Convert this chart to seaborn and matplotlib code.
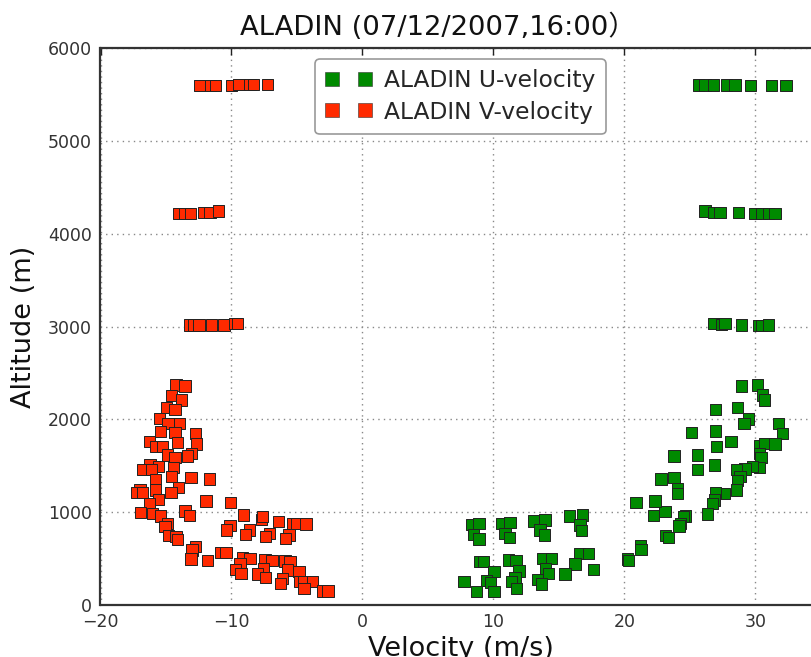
import matplotlib
matplotlib.use("Agg")
import matplotlib.pyplot as plt
from matplotlib.lines import Line2D
import numpy as np
import pandas as pd
import seaborn as sns

# ---------------- data ----------------
title_text = "ALADIN (07/12/2007,16:00\uff09"
x_label = "Velocity (m/s)"
y_label = "Altitude (m)"
series_labels = ["ALADIN U-velocity", "ALADIN V-velocity"]
x_ticks = [-20, -10, 0, 10, 20, 30]
y_ticks = [0, 1000, 2000, 3000, 4000, 5000, 6000]

# U-velocity (green)
u_velocity = [
    25.63, 26.15, 26.78, 27.80, 28.44, 29.63, 31.24, 32.33,
    26.15, 26.78, 27.29, 28.69, 29.96, 30.47, 30.98, 31.49,
    26.78, 27.42, 27.67, 28.95, 30.21, 30.47, 30.98,
    28.95, 30.17, 30.52, 30.67, 26.96, 28.64, 29.45, 29.12, 31.76, 32.06,
    25.13, 26.96, 28.13, 27.04, 30.29, 30.73, 31.49, 23.78, 25.56, 30.29,
    30.42, 25.56, 26.89, 30.29, 29.79, 29.20, 28.56, 22.79, 23.78, 28.82,
    28.64, 24.06, 24.06, 28.56, 27.60, 26.93, 26.85, 26.73, 23.09, 26.35,
    24.67, 24.49, 24.29, 24.16, 23.15, 23.34,
    20.88, 22.33, 22.20, 21.24, 21.26, 20.24, 20.29,
    8.34, 8.89, 8.46, 8.89, 10.63, 11.26, 10.88, 11.21, 13.09, 13.93,
    13.55, 13.88, 15.79, 16.81, 16.60, 16.70,
    8.97, 9.22, 10.04, 9.48, 9.79, 10.04, 7.75, 8.72, 11.13, 11.72,
    11.95, 11.64, 11.39, 11.77, 13.76, 14.44, 13.98, 14.18, 13.34, 13.68,
    16.55, 17.24, 16.22, 15.46, 17.62,
]
u_altitude = [
    5601, 5601, 5601, 5601, 5601, 5594, 5594, 5594,
    4244, 4230, 4230, 4230, 4219, 4219, 4219, 4219,
    3035, 3024, 3035, 3016, 3009, 3009, 3016,
    2359, 2370, 2262, 2208, 2108, 2125, 2004, 1957, 1957, 1850,
    1860, 1874, 1759, 1705, 1713, 1742, 1734, 1605, 1616, 1634,
    1591, 1462, 1508, 1483, 1490, 1465, 1462, 1357, 1371, 1382,
    1339, 1257, 1203, 1239, 1203, 1210, 1131, 1096, 1005, 980,
    959, 951, 880, 851, 747, 729,
    1102, 1120, 962, 636, 600, 496, 477,
    869, 880, 762, 711, 880, 891, 772, 725, 905, 916,
    808, 754, 959, 970, 862, 800,
    466, 466, 359, 262, 240, 143, 251, 143, 485, 477,
    366, 298, 251, 180, 503, 503, 395, 341, 277, 226,
    557, 557, 442, 334, 385,
]

# V-velocity (red)
v_velocity = [
    -12.46, -11.59, -11.24, -9.98, -9.43, -8.59, -8.34, -7.27,
    -14.06, -13.55, -13.11, -12.15, -11.64, -11.01,
    -13.22, -12.92, -12.48, -11.51, -10.57, -9.73, -9.56,
    -14.24, -13.55, -14.56, -13.80, -14.95, -14.31, -15.51, -14.85, -13.98,
    -15.40, -14.31, -12.76, -16.27, -14.14, -12.66, -15.79, -15.28, -14.90,
    -14.31, -13.04, -13.34, -16.22, -15.59, -16.81, -16.09, -14.44, -15.79,
    -14.56, -13.09, -11.69, -16.98, -17.24, -16.81, -15.79, -14.06, -14.62,
    -15.59, -16.27, -11.95, -10.06, -16.93, -16.05, -15.40, -13.55, -13.22,
    -9.10, -7.69, -7.62, -6.43, -5.36, -5.02, -4.31, -14.87, -15.08, -10.11,
    -10.37, -8.64, -8.95, -7.11, -7.39, -5.61, -5.86, -14.79, -14.24, -14.14,
    -12.76, -13.02, -13.09, -11.85, -10.80, -10.42, -9.15, -8.59, -7.44,
    -6.91, -5.92, -5.53, -9.35, -9.68, -9.27, -7.57, -8.00, -7.39, -5.71,
    -4.85, -6.09, -6.24, -4.82, -4.47, -3.80, -4.47, -3.04, -2.63,
]
v_altitude = [
    5594, 5594, 5594, 5594, 5610, 5610, 5610, 5610,
    4219, 4219, 4219, 4230, 4230, 4244,
    3016, 3016, 3016, 3016, 3016, 3035, 3035,
    2370, 2359, 2255, 2208, 2125, 2108, 2011, 1957, 1957,
    1867, 1856, 1850, 1759, 1748, 1734, 1705, 1705, 1616,
    1591, 1634, 1605, 1508, 1490, 1462, 1462, 1483, 1354,
    1382, 1376, 1357, 1246, 1210, 1210, 1239, 1268, 1210,
    1139, 1096, 1120, 1106, 994, 988, 959, 1013, 962,
    970, 923, 951, 897, 880, 880, 873, 880, 843, 854,
    808, 808, 762, 772, 736, 754, 719, 747, 736, 708,
    628, 592, 496, 477, 563, 563, 514, 503, 485,
    477, 474, 466, 449, 385, 341, 395, 334, 298, 377,
    359, 288, 234, 251, 251, 251, 180, 151, 151,
]

u_color = "#008a00"
v_color = "#ff2a00"

# ---------------- figure ----------------
sns.set_style("white")
plt.rcParams["font.family"] = ["DejaVu Sans", "Noto Sans CJK SC"]
plt.rcParams["axes.unicode_minus"] = True

W, H = 812, 657
fig = plt.figure(figsize=(W / 100, H / 100), dpi=100)
fig.patch.set_facecolor("white")
ax_left, ax_bottom, ax_top = 100.5, 605, 48
ax_width = 720.5
ax = fig.add_axes([ax_left / W, (H - ax_bottom) / H, ax_width / W, (ax_bottom - ax_top) / H])

df = pd.DataFrame({
    "velocity": u_velocity + v_velocity,
    "altitude": u_altitude + v_altitude,
    "series": [series_labels[0]] * len(u_velocity) + [series_labels[1]] * len(v_velocity),
})

sns.scatterplot(
    data=df, x="velocity", y="altitude", hue="series",
    palette={series_labels[0]: u_color, series_labels[1]: v_color},
    marker="s", s=66, edgecolor="#222222", linewidth=0.7,
    legend=False, ax=ax, zorder=3,
)

ax.set_xlim(-20, 35)
ax.set_ylim(0, 6000)
ax.set_xticks(x_ticks)
ax.set_yticks(y_ticks)
ax.set_xticklabels([f"{t}".replace("-", "\u2212") for t in x_ticks])
ax.grid(True, color="#888888", linestyle=(0, (1, 3)), linewidth=1.0, zorder=0)
ax.tick_params(direction="in", length=5, width=1, top=True, right=True,
               labelsize=12.5, pad=6, colors="#222222", labelcolor="#333333")
for sp in ax.spines.values():
    sp.set_color("#333333")
    sp.set_linewidth(1.6)

ax.set_xlabel(x_label, fontsize=19.5, labelpad=3, color="#111111")
ax.set_ylabel(y_label, fontsize=19.5, labelpad=8, color="#111111")

fig.text(240 / W, 1 - 27 / H, title_text, ha="left", va="center",
         fontsize=19.7, color="#111111",
         family=["DejaVu Sans", "Noto Sans CJK SC"])

handles = [
    Line2D([0], [0], marker="s", linestyle="none", markersize=10,
           markerfacecolor=u_color, markeredgecolor="#333333", markeredgewidth=0.4),
    Line2D([0], [0], marker="s", linestyle="none", markersize=10,
           markerfacecolor=v_color, markeredgecolor="#333333", markeredgewidth=0.4),
]
leg = ax.legend(handles, series_labels, loc="upper left",
                bbox_to_anchor=(315 / W, 1 - 59 / H), bbox_transform=fig.transFigure,
                numpoints=2, fontsize=16.8, handlelength=2.0, handletextpad=0.5,
                labelspacing=0.35, borderpad=0.45, borderaxespad=0,
                fancybox=True, framealpha=1, edgecolor="#999999")
leg.get_frame().set_linewidth(1.2)

fig.savefig("out.png", dpi=100, facecolor="white")
